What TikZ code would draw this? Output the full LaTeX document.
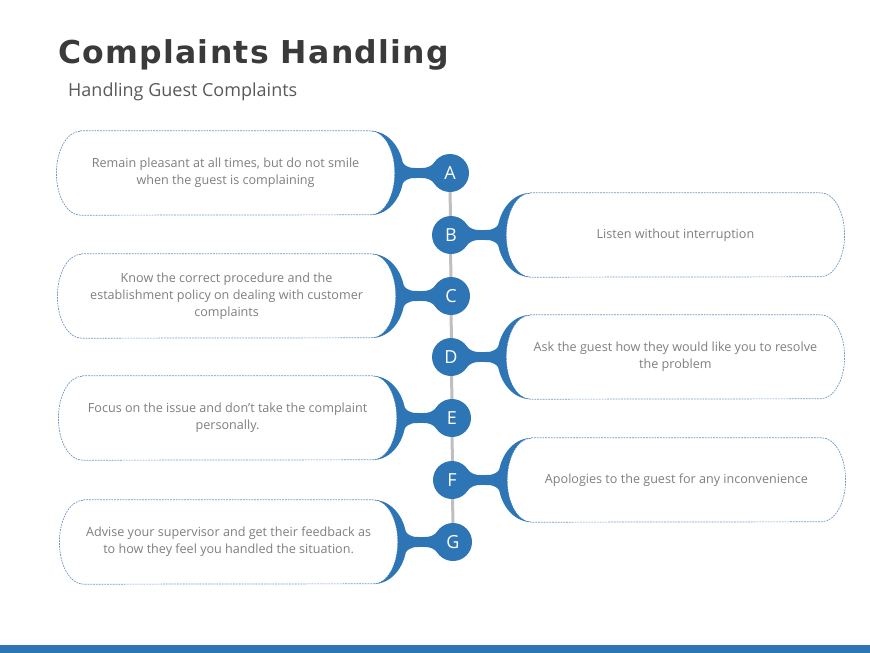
\documentclass[tikz,border=0pt]{standalone}
\usepackage{fontspec}
\setmainfont{Open Sans}
\newfontfamily\titlefont[LetterSpace=4]{DejaVu Sans}
\usetikzlibrary{positioning,backgrounds}

\pgfdeclarelayer{front}
\pgfsetlayers{background,main,front}

\definecolor{hubblue}{HTML}{2E75B6}
\definecolor{linegray}{HTML}{BFBFBF}
\definecolor{txtgray}{HTML}{7F7F7F}
\definecolor{edgeblue}{HTML}{7097C2}
\definecolor{titlegray}{HTML}{3A3A3A}
\definecolor{subgray}{HTML}{595959}

\tikzset{
    letterdot/.style={circle,fill=hubblue,minimum size=38pt,inner sep=0pt,text=white,font=\fontsize{18}{18}\selectfont},
    pill/.style={rectangle,minimum width=338pt,minimum height=84pt,
        align=center,text=txtgray,font=\fontsize{12.6}{17}\selectfont},
    pilledge/.style={draw=edgeblue,line width=0.7pt,dash pattern=on 1.8pt off 1pt,fill=white},
    hub/.style={fill=hubblue},
}

% outline of a pill: straight sides, half-ellipse ends
\newcommand{\pillline}[1]{%
    \path[pilledge] ([xshift=24pt]#1.north west) -- ([xshift=-24pt]#1.north east)
        arc[start angle=-90,end angle=90,x radius=24,y radius=42]
        -- ([xshift=24pt]#1.south west)
        arc[start angle=90,end angle=270,x radius=24,y radius=42] -- cycle;}

% crescent + stem between a pill and its letter
\newcommand{\linkpill}[4]{%
    \fill[hub] ([yshift=-5pt]#1.#2) rectangle ([yshift=5pt]#3.center);
    \begin{scope}[shift={(#1.#2)},xscale=#4]
        \fill[hub] (-24,-42) arc[start angle=-90,end angle=90,x radius=33,y radius=42]
            arc[start angle=90,end angle=-90,x radius=24,y radius=42] -- cycle;
        \fill[hub] (3,-19) .. controls (9,-6) and (13,-5) .. (21,-5) -- (21,5)
            .. controls (13,5) and (9,6) .. (3,19) -- cycle;
        \fill[hub] (27,-5) .. controls (33,-5) and (36,-6.5) .. (40,-11) -- (40,11)
            .. controls (36,6.5) and (33,5) .. (27,5) -- cycle;
    \end{scope}}

\begin{document}
\begin{tikzpicture}[x=1pt,y=-1pt]
    \useasboundingbox (0,0) rectangle (870,653);

    \node[anchor=base west,inner sep=0pt,text=titlegray,font=\titlefont\bfseries\fontsize{31.5}{31.5}\selectfont] (title) at (58,63) {Complaints Handling};
    \node[anchor=base west,inner sep=0pt,text=subgray,font=\fontsize{18}{18}\selectfont] (subtitle) at (68,96) {Handling Guest Complaints};

    \begin{pgfonlayer}{front}
        \node[letterdot] (circA) at (450,173) {A};
        \node[letterdot] (circB) at (451,235) {B};
        \node[letterdot] (circC) at (451,296) {C};
        \node[letterdot] (circD) at (451,357) {D};
        \node[letterdot] (circE) at (452,418) {E};
        \node[letterdot] (circF) at (452,480) {F};
        \node[letterdot] (circG) at (453,542) {G};
    \end{pgfonlayer}

    \node[pill,left=36pt of circA] (pillA) {Remain pleasant at all times, but do not smile\\when the guest is complaining};
    \node[pill,right=36pt of circB] (pillB) {Listen without interruption};
    \node[pill,left=36pt of circC] (pillC) {Know the correct procedure and the\\establishment policy on dealing with customer\\complaints};
    \node[pill,right=36pt of circD] (pillD) {Ask the guest how they would like you to resolve\\the problem};
    \node[pill,left=36pt of circE] (pillE) {Focus on the issue and don’t take the complaint\\personally.};
    \node[pill,right=36pt of circF] (pillF) {Apologies to the guest for any inconvenience};
    \node[pill,left=36pt of circG] (pillG) {Advise your supervisor and get their feedback as\\to how they feel you handled the situation.};

    \begin{scope}[on background layer]
        \draw[linegray,line width=3pt] (circA.center) -- (circG.center);
        \pillline{pillA} \pillline{pillB} \pillline{pillC} \pillline{pillD}
        \pillline{pillE} \pillline{pillF} \pillline{pillG}
    \end{scope}

    \linkpill{pillA}{east}{circA}{1}
    \linkpill{pillB}{west}{circB}{-1}
    \linkpill{pillC}{east}{circC}{1}
    \linkpill{pillD}{west}{circD}{-1}
    \linkpill{pillE}{east}{circE}{1}
    \linkpill{pillF}{west}{circF}{-1}
    \linkpill{pillG}{east}{circG}{1}

    \fill[hubblue] (0,645) rectangle (870,653);
\end{tikzpicture}
\end{document}
